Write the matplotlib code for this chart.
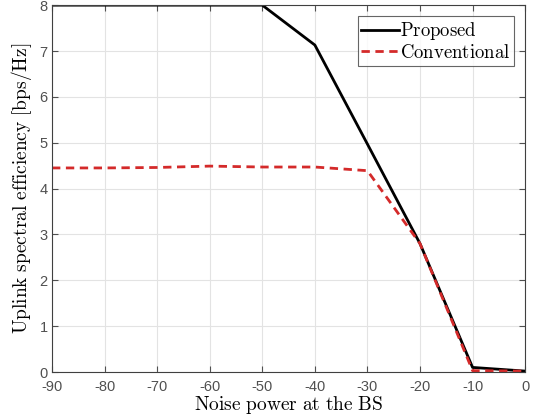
import matplotlib
matplotlib.use('Agg')
import matplotlib.pyplot as plt

plt.rcParams['mathtext.fontset'] = 'cm'
plt.rcParams['axes.unicode_minus'] = False
plt.rcParams['font.family'] = 'Liberation Sans'

noise = [-90, -80, -70, -60, -50, -40, -30, -20, -10, 0]
proposed = [8, 8, 8, 8, 8, 7.13, 4.97, 2.8, 0.1, 0.02]
conventional = [4.45, 4.45, 4.46, 4.49, 4.47, 4.47, 4.39, 2.8, 0.03, 0.02]

fig = plt.figure(figsize=(5.34, 4.15), dpi=100)
ax = fig.add_axes([0.0974, 0.1036, 0.886, 0.884])

ax.plot(noise, proposed, color='black', lw=2, label=r'$\mathrm{Proposed}$')
ax.plot(noise, conventional, color='#d42a2a', lw=2, ls=(0, (3, 2)), label=r'$\mathrm{Conventional}$')

ax.set_xlim(-90, 0)
ax.set_ylim(0, 8)
ax.set_xticks(range(-90, 1, 10))
ax.set_yticks(range(0, 9))
ax.grid(True, color='#e3e3e3', lw=0.8)
ax.tick_params(direction='in', top=True, right=True, labelsize=10.5, colors='#505050', length=4)
ax.tick_params(axis='x', pad=6)
ax.tick_params(axis='y', pad=3)
for s in ax.spines.values():
    s.set_color('#404040')

ax.set_xlabel(r'$\mathrm{Noise\ power\ at\ the\ BS}$', fontsize=14, labelpad=0)
ax.set_ylabel(r'$\mathrm{Uplink\ spectral\ efficiency\ [bps/Hz]}$', fontsize=14, labelpad=4)

leg = ax.legend(loc='upper right', fontsize=13.5, fancybox=False, edgecolor='#404040',
                handlelength=2.0, handletextpad=0.05, borderpad=0.2, labelspacing=0.1,
                borderaxespad=0.6)
leg.get_frame().set_linewidth(0.8)

fig.savefig('out.png', dpi=100)
